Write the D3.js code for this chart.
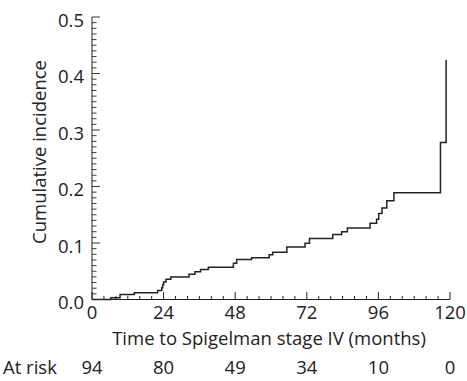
<!DOCTYPE html>
<html><head><meta charset="utf-8">
<script src="https://cdn.jsdelivr.net/npm/d3@7"></script>
<style>
body{margin:0;background:#fff;}
text{font-family:"Open Sans","Liberation Sans",sans-serif;fill:#222;}
</style></head>
<body><svg id="c" width="467" height="381"></svg>
<script>
const times  = [0, 6.3, 9.4, 14.2, 22.0, 23.4, 23.7, 24.0, 24.8, 26.4, 32.5, 34.5, 36.4, 39.0, 47.4, 48.5, 53.5, 59.4, 60.6, 65.3, 71.4, 72.9, 80.7, 83.7, 85.6, 93.2, 95.4, 96.1, 97.2, 98.8, 101.2, 116.8, 118.7];
const values = [0, 0.003, 0.009, 0.012, 0.016, 0.021, 0.026, 0.031, 0.036, 0.040, 0.0445, 0.049, 0.053, 0.057, 0.064, 0.071, 0.074, 0.079, 0.0835, 0.093, 0.0995, 0.108, 0.115, 0.120, 0.1265, 0.135, 0.142, 0.152, 0.162, 0.175, 0.189, 0.278, 0.424];
const xTicks = [0, 24, 48, 72, 96, 120];
const yTicks = [0, 0.1, 0.2, 0.3, 0.4, 0.5];
const atRiskTimes = [0, 24, 48, 72, 96, 120];
const atRisk = [94, 80, 49, 34, 10, 0];

const svg = d3.select("#c");
const x = d3.scaleLinear().domain([0, 120]).range([92, 450]);
const y = d3.scaleLinear().domain([0, 0.5]).range([299.5, 17]);
const fs = 18.5;

// x axis
const xMinor = d3.range(0, 121, 4);
const gx = svg.append("g");
gx.append("line").attr("x1", x(0)).attr("x2", x(120)).attr("y1", y(0)).attr("y2", y(0)).attr("stroke", "#222");
gx.selectAll(".xt").data(xMinor).join("line")
  .attr("x1", d => x(d)).attr("x2", d => x(d))
  .attr("y1", y(0)).attr("y2", d => y(0) - (d % 24 === 0 ? 7.5 : 3.5))
  .attr("stroke", "#222");
gx.selectAll(".xl").data(xTicks).join("text")
  .attr("x", d => x(d)).attr("y", 319).attr("text-anchor", "middle")
  .attr("font-size", fs).text(d => d);

// y axis
const yMinor = d3.range(0, 51).map(i => i / 100);
const gy = svg.append("g");
gy.append("line").attr("x1", x(0)).attr("x2", x(0)).attr("y1", y(0)).attr("y2", y(0.5)).attr("stroke", "#222");
gy.selectAll(".yt").data(yMinor).join("line")
  .attr("y1", d => y(d)).attr("y2", d => y(d))
  .attr("x1", x(0)).attr("x2", (d, i) => x(0) + (i % 10 === 0 ? 8 : 4.5))
  .attr("stroke", "#222").attr("stroke-width", 0.9);
gy.selectAll(".yl").data(yTicks).join("text")
  .attr("x", 84).attr("y", d => y(d) + 9.5).attr("text-anchor", "end")
  .attr("font-size", fs).text(d => d.toFixed(1));

// axis titles
svg.append("text").attr("transform", "translate(46,152) rotate(-90)")
  .attr("text-anchor", "middle").attr("font-size", fs).text("Cumulative incidence");
svg.append("text").attr("x", 269).attr("y", 345).attr("text-anchor", "middle")
  .attr("font-size", fs).text("Time to Spigelman stage IV (months)");

// at risk
svg.append("text").attr("x", 3).attr("y", 374).attr("font-size", fs).text("At risk");
svg.selectAll(".ar").data(atRisk).join("text")
  .attr("x", (d, i) => x(atRiskTimes[i])).attr("y", 374).attr("text-anchor", "middle")
  .attr("font-size", fs).text(d => d);

// curve
const pts = times.map((t, i) => [t, values[i]]);
const line = d3.line().x(d => x(d[0])).y(d => y(d[1])).curve(d3.curveStepAfter);
svg.append("path").datum(pts).attr("d", line)
  .attr("fill", "none").attr("stroke", "#222").attr("stroke-width", 1.5);
</script></body></html>
